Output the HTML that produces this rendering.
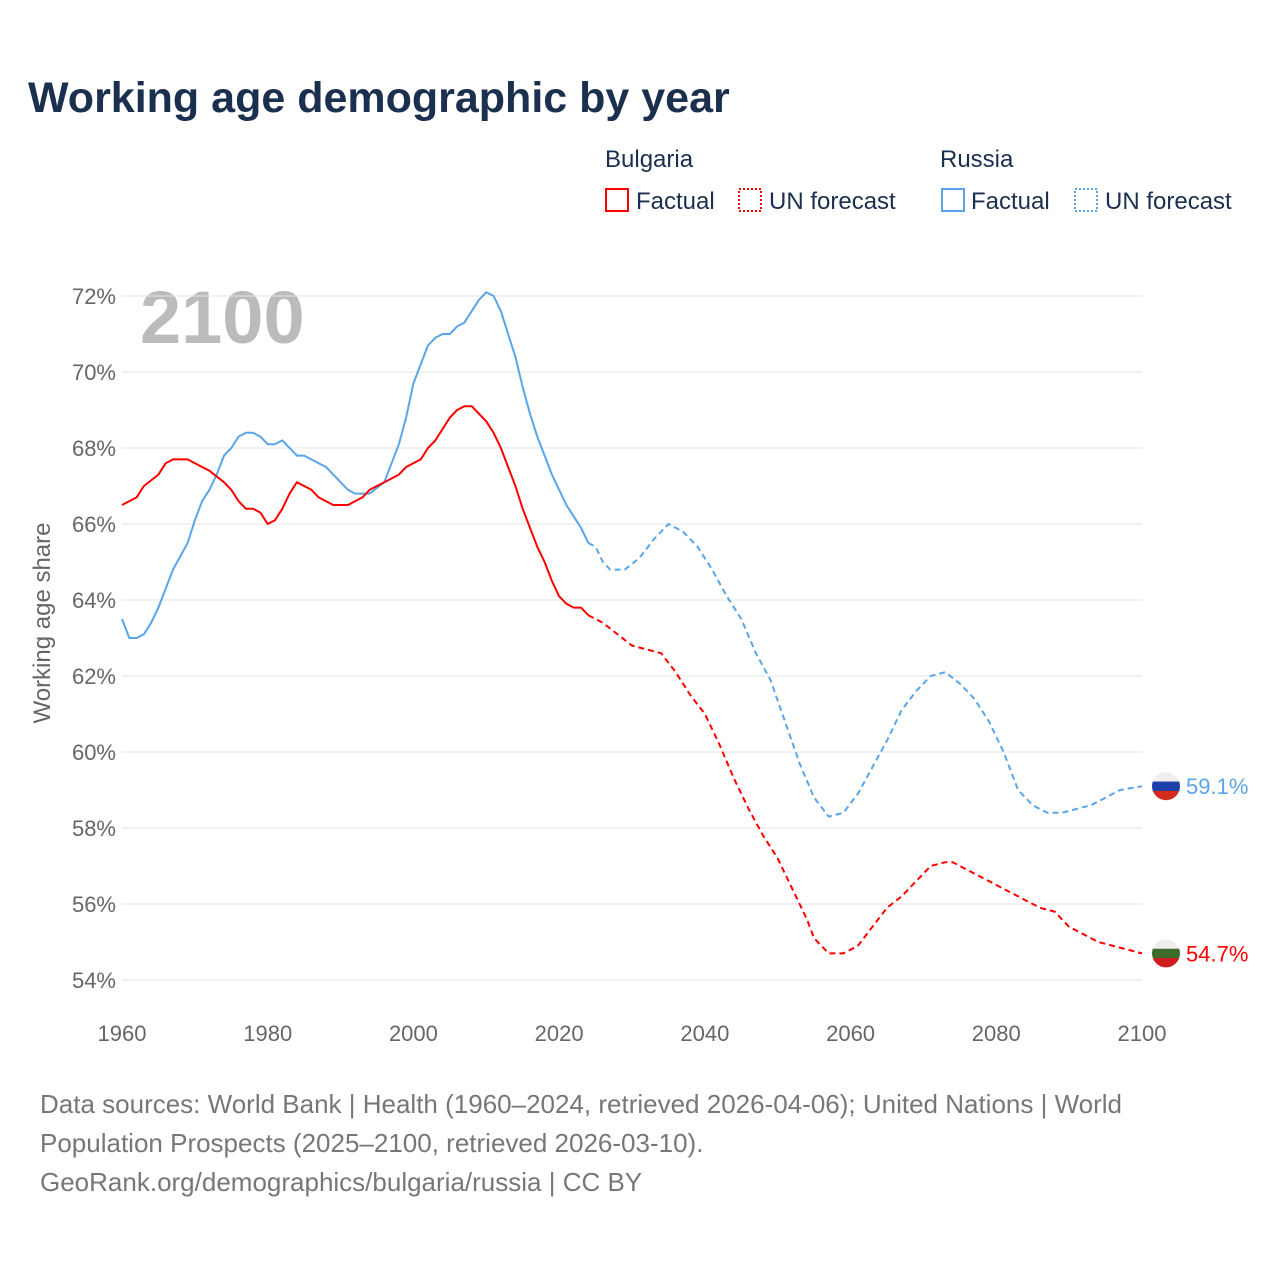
<!DOCTYPE html>
<html><head><meta charset="utf-8">
<style>
body{margin:0;background:#fff;width:1280px;height:1280px;overflow:hidden;font-family:"Liberation Sans",sans-serif;}
</style></head>
<body>
<svg id="chart" width="1280" height="1280" xmlns="http://www.w3.org/2000/svg" font-family="Liberation Sans, sans-serif">
<text x="28" y="112" font-size="43" font-weight="bold" fill="#1b2f4e">Working age demographic by year</text>
<g font-size="24" fill="#1b2f4e">
<text x="605" y="167">Bulgaria</text>
<text x="940" y="167">Russia</text>
<g><rect x="606" y="189" width="22" height="22" fill="none" stroke="#f00" stroke-width="2"/><text x="636" y="209">Factual</text></g>
<g><rect x="739" y="189" width="22" height="22" fill="none" stroke="#f00" stroke-width="2" stroke-dasharray="2,2"/><text x="769" y="209">UN forecast</text></g>
<g><rect x="942" y="189" width="22" height="22" fill="none" stroke="#5aa5e8" stroke-width="2"/><text x="971" y="209">Factual</text></g>
<g><rect x="1075" y="189" width="22" height="22" fill="none" stroke="#5aa5e8" stroke-width="2" stroke-dasharray="2,2"/><text x="1105" y="209">UN forecast</text></g>
</g>
<text x="140" y="343" font-size="74" font-weight="bold" fill="#bbb">2100</text>
<g id="grid"></g>
<g id="series"></g>
<text transform="translate(50,623) rotate(-90)" text-anchor="middle" font-size="24" fill="#666">Working age share</text>
<g font-size="26" fill="#777">
<text x="40" y="1113">Data sources: World Bank | Health (1960–2024, retrieved 2026-04-06); United Nations | World</text>
<text x="40" y="1152">Population Prospects (2025–2100, retrieved 2026-03-10).</text>
<text x="40" y="1191">GeoRank.org/demographics/bulgaria/russia | CC BY</text>
</g>
</svg>
<script>
const yTicks=[54,56,58,60,62,64,66,68,70,72];
const xTicks=[1960,1980,2000,2020,2040,2060,2080,2100];
const bgFactYears=[1960,1962,1963,1965,1966,1967,1969,1970,1972,1974,1975,1976,1977,1978,1979,1980,1981,1982,1983,1984,1985,1986,1987,1988,1989,1991,1993,1994,1996,1998,1999,2001,2002,2003,2004,2005,2006,2007,2008,2009,2010,2011,2012,2013,2014,2015,2016,2017,2018,2019,2020,2021,2022,2023,2024];
const bgFactVals=[66.5,66.7,67.0,67.3,67.6,67.7,67.7,67.6,67.4,67.1,66.9,66.6,66.4,66.4,66.3,66.0,66.1,66.4,66.8,67.1,67.0,66.9,66.7,66.6,66.5,66.5,66.7,66.9,67.1,67.3,67.5,67.7,68.0,68.2,68.5,68.8,69.0,69.1,69.1,68.9,68.7,68.4,68.0,67.5,67.0,66.4,65.9,65.4,65.0,64.5,64.1,63.9,63.8,63.8,63.6];
const bgFcYears=[2024,2026,2028,2030,2032,2034,2036,2038,2040,2042,2044,2046,2048,2050,2052,2054,2055,2057,2059,2061,2063,2065,2067,2069,2071,2073,2074,2076,2078,2080,2082,2084,2086,2088,2090,2092,2094,2096,2098,2100];
const bgFcVals=[63.6,63.4,63.1,62.8,62.7,62.6,62.1,61.5,61.0,60.2,59.3,58.5,57.8,57.2,56.4,55.6,55.1,54.7,54.7,54.9,55.4,55.9,56.2,56.6,57.0,57.1,57.1,56.9,56.7,56.5,56.3,56.1,55.9,55.8,55.4,55.2,55.0,54.9,54.8,54.7];
const ruFactYears=[1960,1961,1962,1963,1964,1965,1966,1967,1969,1970,1971,1972,1973,1974,1975,1976,1977,1978,1979,1980,1981,1982,1984,1985,1987,1988,1989,1990,1991,1992,1994,1996,1997,1998,1999,2000,2001,2002,2003,2004,2005,2006,2007,2008,2009,2010,2011,2012,2013,2014,2015,2016,2017,2018,2019,2020,2021,2022,2023,2024];
const ruFactVals=[63.5,63.0,63.0,63.1,63.4,63.8,64.3,64.8,65.5,66.1,66.6,66.9,67.3,67.8,68.0,68.3,68.4,68.4,68.3,68.1,68.1,68.2,67.8,67.8,67.6,67.5,67.3,67.1,66.9,66.8,66.8,67.1,67.6,68.1,68.8,69.7,70.2,70.7,70.9,71.0,71.0,71.2,71.3,71.6,71.9,72.1,72.0,71.6,71.0,70.4,69.6,68.9,68.3,67.8,67.3,66.9,66.5,66.2,65.9,65.5];
const ruFcYears=[2024,2025,2026,2027,2029,2031,2033,2035,2037,2039,2041,2043,2045,2047,2049,2051,2053,2055,2057,2059,2061,2063,2065,2067,2069,2071,2073,2075,2077,2079,2081,2083,2085,2087,2089,2091,2093,2095,2097,2100];
const ruFcVals=[65.5,65.4,65.0,64.8,64.8,65.1,65.6,66.0,65.8,65.4,64.8,64.1,63.5,62.6,61.9,60.8,59.7,58.8,58.3,58.4,58.9,59.6,60.3,61.1,61.6,62.0,62.1,61.8,61.4,60.8,60.0,59.0,58.6,58.4,58.4,58.5,58.6,58.8,59.0,59.1];

const NS='http://www.w3.org/2000/svg';
const X=y=>122+(y-1960)*(1020/140);
const Y=v=>980-(v-54)*38;
const grid=document.getElementById('grid'),ser=document.getElementById('series');
function mk(tag,attrs,parent){const e=document.createElementNS(NS,tag);for(const k in attrs)e.setAttribute(k,attrs[k]);parent.appendChild(e);return e;}
yTicks.forEach(t=>{
  const l=mk('line',{x1:122,x2:1142,y1:Y(t),y2:Y(t),stroke:'#e4e4e4','stroke-width':1},grid);
  
  
  const tx=mk('text',{x:116,y:Y(t)+8,'text-anchor':'end','font-size':22,fill:'#666'},grid);
  tx.textContent=t+'%';
  
  
});
xTicks.forEach(t=>{
  const tx=mk('text',{x:X(t),y:1041,'text-anchor':'middle','font-size':22,fill:'#666'},grid);
  tx.textContent=t;
  
  
});
function line(ys,vs,color,dash,name){
  const d=ys.map((y,i)=>(i?'L':'M')+X(y).toFixed(1)+','+Y(vs[i]).toFixed(1)).join('');
  const p=mk('path',{d:d,fill:'none',stroke:color,'stroke-width':2,'stroke-linejoin':'round'},ser);
  if(dash)p.setAttribute('stroke-dasharray',dash);
  
  
}
line(ruFcYears,ruFcVals,'#5aa5e8','6,4','russia-forecast-line');
line(ruFactYears,ruFactVals,'#5aa5e8',null,'russia-factual-line');
line(bgFcYears,bgFcVals,'#f00','6,4','bulgaria-forecast-line');
line(bgFactYears,bgFactVals,'#f00',null,'bulgaria-factual-line');
function flag(v,cols,label,color,name){
  const cy=Y(v),cx=1166,r=14;
  const g=mk('g',{},ser);
  
  
  const id='c'+name;
  const cp=mk('clipPath',{id:id},g);mk('circle',{cx:cx,cy:cy,r:r},cp);
  cols.forEach((c,i)=>mk('rect',{x:cx-r,y:cy-r+i*2*r/3,width:2*r,height:2*r/3+0.5,fill:c,'clip-path':'url(#'+id+')'},g));
  const t=mk('text',{x:1186,y:cy+8,'font-size':22,fill:color},g);
  t.textContent=v.toFixed(1)+'%';
  
  
}
flag(ruFcVals[ruFcVals.length-1],['#eee','#1c3fa8','#d52b1e'],'','#5aa5e8','russia');
flag(bgFcVals[bgFcVals.length-1],['#eee','#3d6b2a','#d01c1f'],'','#f00','bulgaria');
</script>
</body></html>
